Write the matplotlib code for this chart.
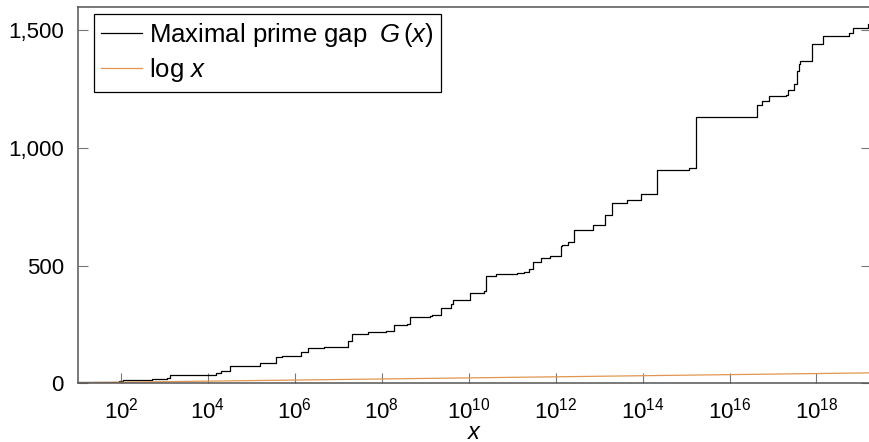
import numpy as np
import matplotlib
matplotlib.use("Agg")
import matplotlib.pyplot as plt
from matplotlib.ticker import FixedLocator, FuncFormatter

plt.rcParams['font.family'] = ['Liberation Sans', 'DejaVu Sans']
plt.rcParams['mathtext.fontset'] = 'custom'
plt.rcParams['mathtext.rm'] = 'Liberation Sans'
plt.rcParams['mathtext.it'] = 'Liberation Sans:italic'

# record (maximal) prime gaps: gap size and the prime where it starts
gap_sizes = [1, 2, 4, 6, 8, 14, 18, 20, 22, 34, 36, 44, 52, 72, 86, 96, 112, 114,
             118, 132, 148, 154, 180, 210, 220, 222, 234, 248, 250, 282, 288, 292,
             320, 336, 354, 382, 384, 394, 456, 464, 468, 474, 486, 490, 500, 514,
             516, 532, 534, 540, 582, 588, 602, 652, 674, 716, 766, 778, 804, 806,
             906, 916, 924, 1132, 1184, 1198, 1220, 1224, 1248, 1272, 1328, 1356,
             1370, 1442, 1476, 1488, 1510, 1526, 1530]
gap_primes = [2, 3, 7, 23, 89, 113, 523, 887, 1129, 1327, 9551, 15683, 19609, 31397,
              155921, 360653, 370261, 492113, 1349533, 1357201, 2010733, 4652353,
              17051707, 20831323, 47326693, 122164747, 189695659, 191912783,
              387096133, 436273009, 1294268491, 1453168141, 2300942549, 3842610773,
              4302407359, 10726904659, 20678048297, 22367084959, 25056082087,
              42652618343, 127976334671, 182226896239, 241160624143, 297501075799,
              303371455241, 304599508537, 416608695821, 461690510011, 614487453523,
              738832927927, 1346294310749, 1408695493609, 1968188556461,
              2614941710599, 7177162611713, 13829048559701, 19581334192423,
              42842283925351, 90874329411493, 171231342420521, 218209405436543,
              1189459969825483, 1686994940955803, 1693182318746371,
              43841547845541059, 55350776431903243, 80873624627234849,
              203986478517455989, 218034721194214273, 305405826521087869,
              352521223451364323, 401429925999153707, 418032645936712127,
              804212830686677669, 1425172824437699411, 5733241593241196731,
              6787988999657777797, 15570628755536096243, 17678654157568189057]

x_min = 10.0
x_max = float(2 ** 64)
y_ticks = [0, 500, 1000, 1500]
x_ticks = [10.0 ** k for k in range(2, 20, 2)]

W, H = 870, 442
fig = plt.figure(figsize=(W / 100, H / 100), dpi=100)
ax = fig.add_axes([77.6 / W, (H - 383.3) / H, (871.5 - 77.6) / W, (383.3 - 6.7) / H])

px = np.array(gap_primes, dtype=float)
gy = np.array(gap_sizes, dtype=float)
px = np.append(px, x_max)
gy = np.append(gy, gy[-1])
ax.step(px, gy, where='post', color='black', lw=0.9,
        label=r'Maximal prime gap $\;G\,(x)$')

xs = np.logspace(1, np.log10(x_max), 400)
ax.plot(xs, np.log(xs), color='#e09650', lw=0.9, label=r'$\log\, x$')

ax.set_xscale('log')
ax.set_xlim(x_min, x_max)
ax.set_ylim(0, 1600)
ax.xaxis.set_major_locator(FixedLocator(x_ticks))
ax.xaxis.set_minor_locator(FixedLocator([]))
ax.yaxis.set_major_locator(FixedLocator(y_ticks))
ax.xaxis.set_major_formatter(FuncFormatter(lambda v, p: r'$10^{%d}$' % round(np.log10(v))))
ax.yaxis.set_major_formatter(FuncFormatter(lambda v, p: f'{int(v):,}'))

for s in ax.spines.values():
    s.set_color('#555555')
    s.set_linewidth(1.1)
ax.tick_params(axis='both', direction='in', length=7.2, width=0.8, color='#777777',
               labelsize=16, pad=10)
ax.tick_params(axis='y', right=True, pad=10)
ax.set_xlabel(r'$x$', fontsize=17, labelpad=-1)

# legend box placed in pixel terms: left edge 94, top edge 14
leg = ax.legend(loc='upper left', bbox_to_anchor=(94 / W, (H - 14) / H),
                bbox_transform=fig.transFigure, borderaxespad=0,
                fontsize=18.5, frameon=True, fancybox=False,
                edgecolor='black', framealpha=1,
                handlelength=1.6, handletextpad=0.25, borderpad=0.28, labelspacing=0.28)
leg.get_frame().set_linewidth(0.9)

fig.savefig('out.png', dpi=100)
